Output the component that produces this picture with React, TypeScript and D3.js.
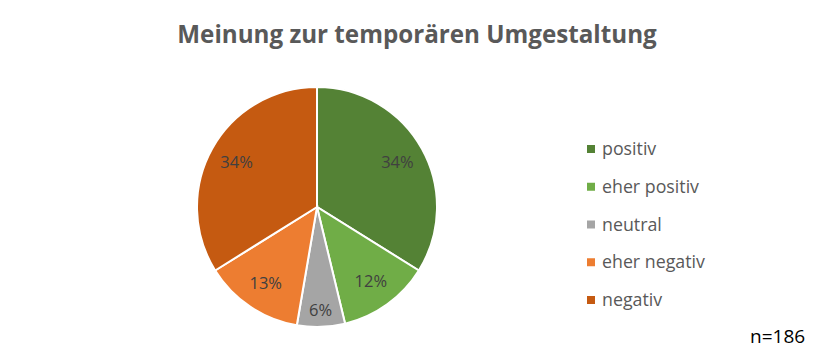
import React from 'react';
import * as d3 from 'd3';

// categories and counts (n=186)
const categories = ['positiv', 'eher positiv', 'neutral', 'eher negativ', 'negativ'];
const counts = [63, 23, 12, 25, 63];
const colors = ['#548235', '#70AD47', '#A5A5A5', '#ED7D31', '#C55A11'];
const title = 'Meinung zur temporären Umgestaltung';
const note = 'n=186';

const W = 834;
const H = 363;

const App = () => {
  const total = d3.sum(counts);
  const cx = 317;
  const cy = 207;
  const r = 120;

  const pie = d3.pie<number>().sort(null).value(d => d)(counts);
  const arc = d3.arc<d3.PieArcDatum<number>>().innerRadius(0).outerRadius(r);

  // legend placement
  const legend = d3.scalePoint<string>()
    .domain(categories)
    .range([149, 300]);

  return (
    <svg width={W} height={H} style={{ position: 'absolute', left: 0, top: 0, background: '#fff' }}>
      <text x={417} y={43} textAnchor="middle" fontFamily="Open Sans, sans-serif"
        fontWeight="bold" fontSize={24.2} fill="#595959">{title}</text>

      <g transform={`translate(${cx},${cy})`}>
        {pie.map((p, i) => (
          <path key={i} d={arc(p) || ''} fill={colors[i]} stroke="#fff" strokeWidth={2} />
        ))}
        {pie.map((p, i) => {
          const span = p.endAngle - p.startAngle;
          const lr = span < 0.5 ? 103 : 92;
          const [lx, ly] = d3.arc<d3.PieArcDatum<number>>().innerRadius(lr).outerRadius(lr).centroid(p);
          return (
            <text key={'l' + i} x={lx} y={ly} dy="0.35em" textAnchor="middle"
              fontFamily="Open Sans, sans-serif" fontSize={16.5} fill="#404040">
              {d3.format('.0%')(p.data / total)}
            </text>
          );
        })}
      </g>

      <g>
        {categories.map((c, i) => (
          <g key={c} transform={`translate(587,${legend(c)})`}>
            <rect x={0} y={-4} width={8} height={8} fill={colors[i]} />
            <text x={15} y={0} dy="0.35em" fontFamily="Open Sans, sans-serif" fontSize={17.8} fill="#595959">{c}</text>
          </g>
        ))}
      </g>

      <text x={750} y={343} fontFamily="Open Sans, sans-serif" fontSize={19} fill="#000">{note}</text>
    </svg>
  );
};

export default App;
